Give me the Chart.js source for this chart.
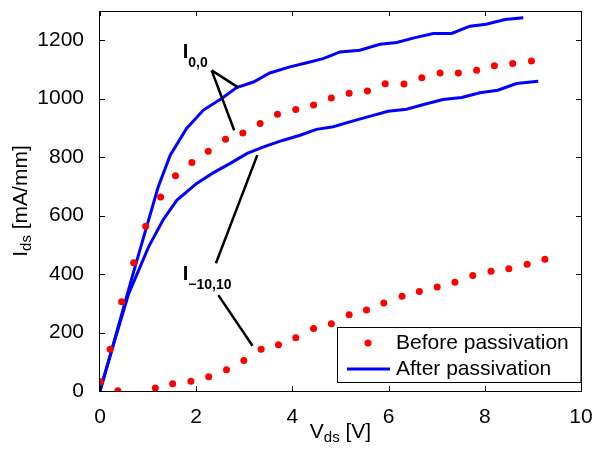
<!DOCTYPE html>
<html>
<head>
<meta charset="utf-8">
<script src="https://cdn.jsdelivr.net/npm/chart.js@4/dist/chart.umd.min.js"></script>
<style>
  body { margin: 0; background: #fff; }
  canvas { display: block; }
</style>
</head>
<body>
<canvas id="chart" width="594" height="450"></canvas>
<script>
// I_ds vs V_ds, before / after passivation
const xTicks = [0, 2, 4, 6, 8, 10];
const yTicks = [0, 200, 400, 600, 800, 1000, 1200];

// before passivation, I_0,0 (red dots, upper)
const beforeHighV = [0, 0.21, 0.45, 0.70, 0.95, 1.26, 1.57, 1.91, 2.25, 2.61, 2.97, 3.33, 3.69, 4.07, 4.44, 4.81, 5.18, 5.56, 5.93, 6.32, 6.69, 7.07, 7.45, 7.83, 8.20, 8.58, 8.97];
const beforeHighI = [32, 143, 305, 439, 564, 664, 736, 782, 820, 861, 883, 915, 947, 963, 978, 1002, 1019, 1026, 1051, 1050, 1072, 1088, 1088, 1097, 1113, 1120, 1129];

// before passivation, I_-10,10 (red dots, lower)
const beforeLowV = [0, 0.37, 1.15, 1.51, 1.89, 2.26, 2.63, 2.99, 3.35, 3.71, 4.07, 4.44, 4.81, 5.18, 5.54, 5.90, 6.28, 6.64, 7.01, 7.38, 7.75, 8.13, 8.50, 8.88, 9.25];
const beforeLowI = [32, 1, 10, 25, 33, 49, 73, 104, 143, 158, 182, 214, 230, 261, 277, 301, 324, 340, 356, 372, 395, 410, 418, 434, 451];

// after passivation, I_0,0 (blue line, upper)
const afterHighV = [0, 0.32, 0.66, 0.94, 1.21, 1.46, 1.80, 2.15, 2.53, 2.84, 3.19, 3.53, 3.95, 4.30, 4.64, 4.99, 5.40, 5.82, 6.17, 6.55, 6.93, 7.31, 7.69, 8.03, 8.42, 8.80];
const afterHighI = [0, 185, 385, 545, 698, 807, 898, 961, 1001, 1038, 1057, 1088, 1109, 1123, 1137, 1160, 1166, 1186, 1192, 1209, 1223, 1223, 1248, 1255, 1271, 1277];

// after passivation, I_-10,10 (blue line, lower)
const afterLowV = [0, 0.30, 0.59, 1.01, 1.31, 1.60, 2.01, 2.36, 2.70, 3.05, 3.40, 3.81, 4.16, 4.50, 4.85, 5.30, 5.68, 5.99, 6.37, 6.75, 7.13, 7.52, 7.90, 8.27, 8.66, 9.11];
const afterLowI = [0, 170, 330, 493, 585, 653, 710, 747, 778, 812, 835, 858, 875, 895, 904, 926, 943, 957, 964, 981, 997, 1004, 1020, 1029, 1052, 1060];

// annotation pointers, in data units
const pointers = [
  { from: [2.32, 1097], to: [2.88, 1038] },
  { from: [2.32, 1097], to: [2.79, 892] },
  { from: [2.41, 437], to: [3.27, 807] },
  { from: [2.46, 328], to: [3.17, 155] }
];
const labels = [
  { x: 1.72, y: 1157, sub: "0,0" },
  { x: 1.72, y: 398, sub: "\u221210,10" }
];

const FONT = '"Liberation Sans", Arial, Helvetica, sans-serif';
const toPts = (xs, ys) => xs.map((x, i) => ({ x: x, y: ys[i] }));

function drawParts(ctx, parts, x, y, align) {
  let total = 0;
  parts.forEach((p) => {
    ctx.font = (p.bold ? "bold " : "") + p.size + "px " + FONT;
    p.w = ctx.measureText(p.t).width;
    total += p.w;
  });
  let cx = align === "center" ? x - total / 2 : x;
  parts.forEach((p) => {
    ctx.font = (p.bold ? "bold " : "") + p.size + "px " + FONT;
    ctx.fillText(p.t, cx, y + (p.dy || 0));
    cx += p.w;
  });
}

const decor = {
  id: "decor",
  afterDatasetsDraw(chart) {
    const ctx = chart.ctx;
    const a = chart.chartArea;
    const xs = chart.scales.x;
    const ys = chart.scales.y;
    ctx.save();
    ctx.strokeStyle = "#000";
    ctx.fillStyle = "#000";

    // frame
    ctx.lineWidth = 1;
    ctx.strokeRect(Math.round(a.left) - 0.5, Math.round(a.top) + 0.5,
      Math.round(a.right - a.left) + 1, Math.round(a.bottom - a.top));

    // inward ticks on all sides
    ctx.beginPath();
    xTicks.forEach((v) => {
      const px = Math.round(xs.getPixelForValue(v)) + 0.5;
      ctx.moveTo(px, a.bottom); ctx.lineTo(px, a.bottom - 5);
      ctx.moveTo(px, a.top); ctx.lineTo(px, a.top + 5);
    });
    yTicks.forEach((v) => {
      const py = Math.round(ys.getPixelForValue(v)) + 0.5;
      ctx.moveTo(a.left, py); ctx.lineTo(a.left + 5, py);
      ctx.moveTo(a.right, py); ctx.lineTo(a.right - 5, py);
    });
    ctx.stroke();

    // pointers
    ctx.lineWidth = 2.5;
    ctx.beginPath();
    pointers.forEach((p) => {
      ctx.moveTo(xs.getPixelForValue(p.from[0]), ys.getPixelForValue(p.from[1]));
      ctx.lineTo(xs.getPixelForValue(p.to[0]), ys.getPixelForValue(p.to[1]));
    });
    ctx.stroke();

    ctx.textBaseline = "middle";
    ctx.textAlign = "left";
    labels.forEach((l) => {
      drawParts(ctx, [
        { t: "I", size: 20, bold: true },
        { t: l.sub, size: 14, bold: true, dy: 10 }
      ], xs.getPixelForValue(l.x), ys.getPixelForValue(l.y), "left");
    });

    // axis titles
    drawParts(ctx, [
      { t: "V", size: 21 },
      { t: "ds", size: 15, dy: 6 },
      { t: " [V]", size: 21 }
    ], (a.left + a.right) / 2, 432, "center");

    ctx.save();
    ctx.translate(21, (a.top + a.bottom) / 2);
    ctx.rotate(-Math.PI / 2);
    drawParts(ctx, [
      { t: "I", size: 21 },
      { t: "ds", size: 15, dy: 6 },
      { t: " [mA/mm]", size: 21 }
    ], 0, 0, "center");
    ctx.restore();

    // legend box in lower right
    const bx = 337.5, by = 327.5, bw = a.right - 337.5, bh = 55;
    ctx.fillStyle = "#fff";
    ctx.fillRect(bx, by, bw, bh);
    ctx.lineWidth = 1;
    ctx.strokeStyle = "#000";
    ctx.strokeRect(bx, by, bw, bh);
    const ds = chart.data.datasets;
    ctx.fillStyle = "#f00";
    ctx.beginPath();
    ctx.arc(368, 343, 3.5, 0, Math.PI * 2);
    ctx.fill();
    ctx.strokeStyle = "#00f";
    ctx.lineWidth = 3;
    ctx.beginPath();
    ctx.moveTo(347, 369); ctx.lineTo(390, 369);
    ctx.stroke();
    ctx.fillStyle = "#000";
    ctx.font = "21px " + FONT;
    ctx.fillText(ds[0].label, 396, 343);
    ctx.fillText(ds[2].label, 396, 369);
    ctx.restore();
  }
};

const zeroPad = (s) => {
  s.paddingLeft = 0; s.paddingRight = 0;
  s.paddingTop = 0; s.paddingBottom = 0;
};

new Chart(document.getElementById("chart"), {
  type: "scatter",
  data: {
    datasets: [
      {
        label: "Before passivation",
        data: toPts(beforeHighV, beforeHighI),
        backgroundColor: "#ff0000",
        borderWidth: 0,
        pointRadius: 3.5,
        showLine: false
      },
      {
        label: "Before passivation",
        data: toPts(beforeLowV, beforeLowI),
        backgroundColor: "#ff0000",
        borderWidth: 0,
        pointRadius: 3.5,
        showLine: false
      },
      {
        label: "After passivation",
        data: toPts(afterHighV, afterHighI),
        borderColor: "#0000ff",
        borderWidth: 3,
        pointRadius: 0,
        showLine: true
      },
      {
        label: "After passivation",
        data: toPts(afterLowV, afterLowI),
        borderColor: "#0000ff",
        borderWidth: 3,
        pointRadius: 0,
        showLine: true
      }
    ]
  },
  options: {
    responsive: false,
    animation: false,
    layout: { padding: { top: 11, right: 13, left: 0, bottom: 0 } },
    plugins: {
      legend: { display: false },
      tooltip: { enabled: false }
    },
    scales: {
      x: {
        type: "linear",
        min: 0,
        max: 10,
        grid: { display: false },
        border: { display: false },
        afterBuildTicks: (s) => { s.ticks = xTicks.map((v) => ({ value: v })); },
        afterFit: (s) => { s.height = 59; zeroPad(s); },
        ticks: {
          color: "#000",
          padding: 6,
          maxRotation: 0,
          callback: (v) => String(v),
          font: { family: FONT, size: 21 }
        }
      },
      y: {
        type: "linear",
        min: 0,
        max: 1300,
        grid: { display: false },
        border: { display: false },
        afterBuildTicks: (s) => { s.ticks = yTicks.map((v) => ({ value: v })); },
        afterFit: (s) => { s.width = 100; zeroPad(s); },
        ticks: {
          color: "#000",
          padding: 8,
          callback: (v) => String(v),
          font: { family: FONT, size: 21 }
        }
      }
    }
  },
  plugins: [decor]
});
</script>
</body>
</html>
